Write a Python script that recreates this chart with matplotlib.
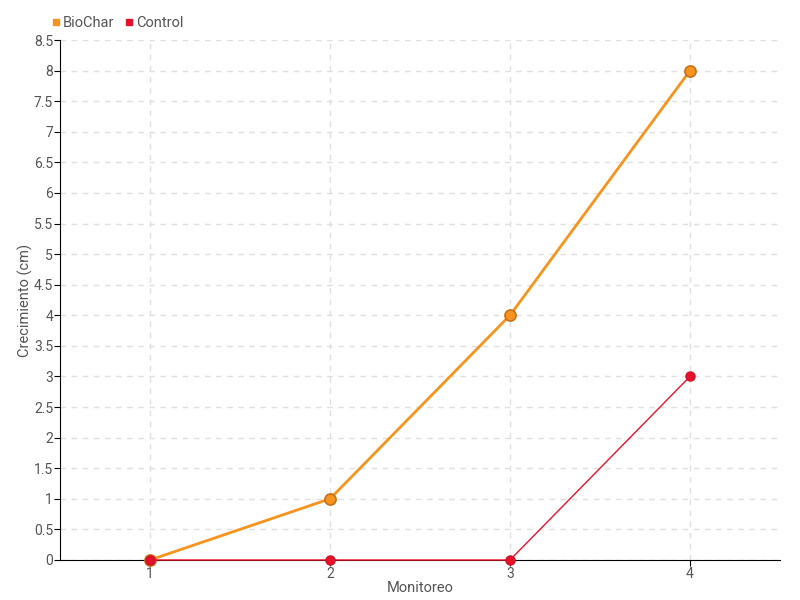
import matplotlib
matplotlib.use("Agg")
import matplotlib.pyplot as plt
from matplotlib.lines import Line2D

monitoreo = ["1", "2", "3", "4"]
biochar = [0, 1, 4, 8]
control = [0, 0, 0, 3]
yticks = [0, 0.5, 1, 1.5, 2, 2.5, 3, 3.5, 4, 4.5, 5, 5.5, 6, 6.5, 7, 7.5, 8, 8.5]

plt.rcParams['font.family'] = ['Roboto', 'DejaVu Sans']
txt = '#555555'

fig = plt.figure(figsize=(8, 6), dpi=100)
ax = fig.add_axes([0.075, 0.0667, 0.9, 0.8666])

x = list(range(1, len(monitoreo) + 1))
ax.plot(x, biochar, color='#f7941d', lw=2, marker='o', ms=8,
        mfc='#f7941d', mec='#c8701a', mew=1.2, zorder=4, clip_on=False)
ax.plot(x, control, color='#f0112a', lw=1, marker='o', ms=6.5,
        mfc='#e8112d', mec='#d01020', zorder=5, clip_on=False)

ax.set_xlim(0.5, 4.5)
ax.set_ylim(0, 8.5)
ax.set_xticks(x)
ax.set_xticklabels(monitoreo)
ax.set_yticks(yticks)
ax.set_yticklabels([f"{v:g}" for v in yticks])
ax.grid(True, color='#e0e0e0', ls=(0, (4, 4)), lw=1)
ax.set_axisbelow(True)
for s in ['top', 'right']:
    ax.spines[s].set_visible(False)
ax.spines['left'].set_color('black')
ax.spines['bottom'].set_color('black')
ax.tick_params(axis='both', colors='black', labelcolor=txt, labelsize=10, length=4, pad=1)

ax.set_xlabel("Monitoreo", color=txt, fontsize=10.5, labelpad=0)
ax.set_ylabel("Crecimiento (cm)", color=txt, fontsize=10.5)
ax.yaxis.set_label_coords(-0.038, 0.5)

handles = [Line2D([], [], ls='none', marker='s', ms=5, color='#f7941d'),
           Line2D([], [], ls='none', marker='s', ms=5, color='#e8112d')]
leg = fig.legend(handles, ["BioChar", "Control"], loc='upper left',
                 bbox_to_anchor=(0.056, 0.983), ncol=2, frameon=False,
                 fontsize=10.5, handletextpad=0.05, columnspacing=0.6,
                 handlelength=0.8, borderaxespad=0)
for t in leg.get_texts():
    t.set_color(txt)

fig.savefig("out.png", dpi=100)
